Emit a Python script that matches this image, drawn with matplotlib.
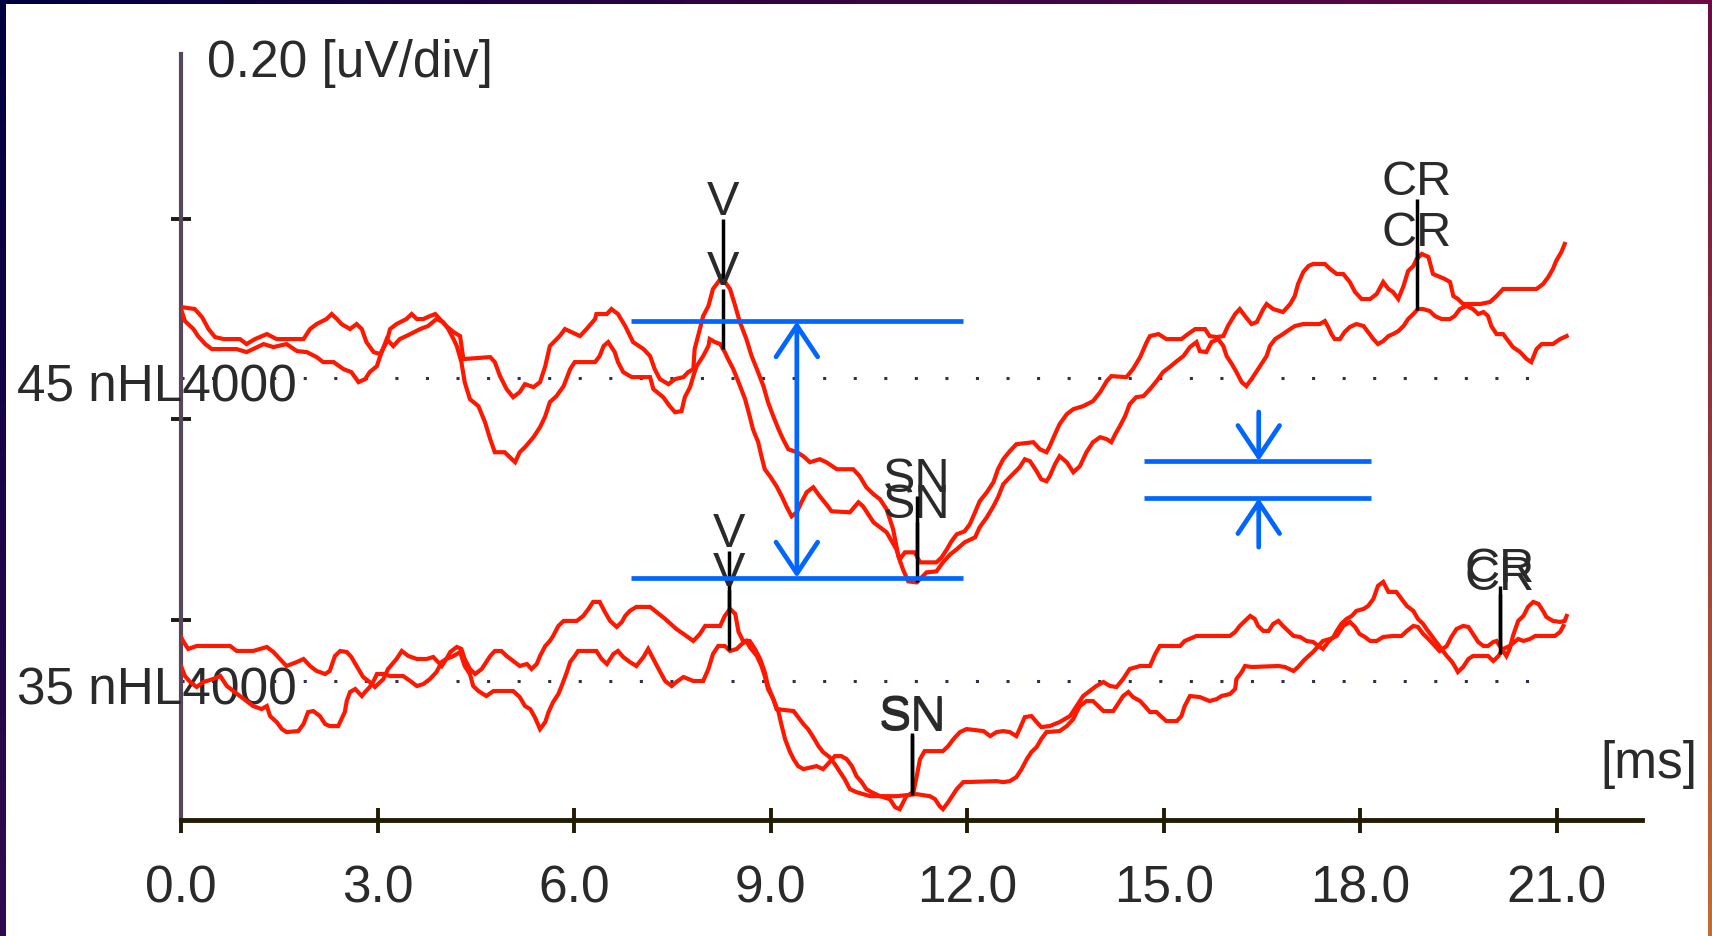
#ABR recording: two stimulus levels at 4000 Hz, two overlaid runs each, with wave markers.

import matplotlib
matplotlib.use('Agg')
import matplotlib.pyplot as plt
import matplotlib.font_manager as fm
from matplotlib.patches import Rectangle, FancyArrowPatch
import numpy as np

#Narrow font if it is there, otherwise plain Liberation Sans a bit smaller

names = set(f.name for f in fm.fontManager.ttflist)
if 'Liberation Sans Narrow' in names:
    font, fs, mfs = 'Liberation Sans Narrow', 44, 42
else:
    font, fs, mfs = 'Liberation Sans', 37, 35
plt.rcParams['font.family'] = [font, 'DejaVu Sans']

#Data. Time in ms, amplitude in uV relative to the trace baseline.

x_ticks = [0.0, 3.0, 6.0, 9.0, 12.0, 15.0, 18.0, 21.0]
x_labels = ['0.0', '3.0', '6.0', '9.0', '12.0', '15.0', '18.0', '21.0']
y_ticks = [0.2, 0.4, 0.6]
levels = ['45 nHL4000', '35 nHL4000']
baselines = [0.4413, 0.1388]

t_45a = [0.00, 0.21, 0.32, 0.42, 0.52, 0.65, 0.90, 1.00, 1.13, 1.31,
         1.46, 1.87, 1.97, 2.07, 2.22, 2.30, 2.38, 2.45, 2.58, 2.68,
         2.76, 2.83, 2.94, 3.04, 3.14, 3.19, 3.29, 3.44, 3.52, 3.60,
         3.70, 3.80, 3.88, 3.95, 4.05, 4.16, 4.26, 4.31, 4.72, 4.79,
         4.87, 4.97, 5.07, 5.17, 5.25, 5.38, 5.48, 5.56, 5.63, 5.78,
         5.86, 6.09, 6.19, 6.32, 6.34, 6.50, 6.57, 6.67, 6.78, 6.90,
         7.06, 7.16,
         7.23, 7.31, 7.44, 7.54, 7.67, 7.74, 7.82, 7.84, 7.92, 7.97,
         8.05, 8.12, 8.20, 8.25, 8.38, 8.46, 8.53, 8.63, 8.71, 8.79,
         8.89, 8.96, 9.04, 9.12, 9.19, 9.27, 9.40, 9.50, 9.60, 9.75,
         9.85, 10.01, 10.26, 10.36, 10.46, 10.57, 10.67, 10.77, 10.87, 10.95,
         11.02, 11.10, 11.23,
         11.38, 11.53, 11.63, 11.74, 11.84, 11.96, 12.12, 12.19, 12.30, 12.40,
         12.47, 12.55, 12.65, 12.80, 12.88, 12.96, 13.06, 13.13, 13.21, 13.26,
         13.34, 13.41, 13.52, 13.62, 13.72, 13.82, 13.92, 14.03, 14.13, 14.20,
         14.26, 14.33, 14.41, 14.48, 14.58, 14.69, 14.79,
         14.89, 14.99, 15.09, 15.20, 15.30, 15.40, 15.50, 15.55, 15.65, 15.73,
         15.83, 15.91, 15.96, 16.04, 16.11, 16.19, 16.26, 16.34, 16.42, 16.49,
         16.57, 16.62, 16.70, 16.82, 16.93, 17.00, 17.13, 17.38, 17.46, 17.51,
         17.56, 17.61, 17.69, 17.76, 17.84, 17.94, 18.05, 18.12, 18.20, 18.27,
         18.35, 18.43, 18.50, 18.58, 18.66, 18.73, 18.81, 18.88, 18.96, 19.06,
         19.14, 19.24, 19.37, 19.44, 19.52, 19.62, 19.72, 19.80, 19.88, 19.95,
         20.00, 20.08, 20.18, 20.26, 20.33, 20.44, 20.54, 20.61, 20.69, 20.77,
         20.94, 21.05, 21.15]
uv_45a = [0.071, 0.069, 0.061, 0.049, 0.041, 0.039, 0.039, 0.034, 0.039, 0.044,
          0.039, 0.039, 0.049, 0.054, 0.059, 0.064, 0.059, 0.054, 0.049, 0.054,
          0.049, 0.036, 0.026, 0.024, 0.036, 0.049, 0.054, 0.059, 0.064, 0.059,
          0.059, 0.062, 0.064, 0.059, 0.052, 0.046, 0.042, 0.019, 0.021, 0.016,
          0.002, -0.011, -0.019, -0.014, -0.006, -0.009, -0.004, 0.012, 0.032, 0.042,
          0.049, 0.042, 0.049, 0.059, 0.064, 0.064, 0.069, 0.064, 0.052, 0.036,
          0.029, 0.022,
          0.009, -0.001, -0.006, -0.001, 0.001, 0.006, 0.009, 0.029, 0.049, 0.062,
          0.072, 0.089, 0.096, 0.101, 0.089, 0.072, 0.056, 0.039, 0.022, 0.009,
          -0.008, -0.024, -0.038, -0.051, -0.061, -0.071, -0.074, -0.078, -0.084, -0.081,
          -0.084, -0.091, -0.091, -0.098, -0.109, -0.116, -0.121, -0.131, -0.151, -0.178,
          -0.191, -0.203, -0.204,
          -0.194, -0.193, -0.184, -0.176, -0.171, -0.164, -0.159, -0.149, -0.139, -0.128,
          -0.119, -0.106, -0.099, -0.089, -0.081, -0.083, -0.093, -0.101, -0.103, -0.098,
          -0.086, -0.078, -0.084, -0.094, -0.088, -0.074, -0.064, -0.059, -0.061, -0.064,
          -0.056, -0.048, -0.038, -0.026, -0.019, -0.018, -0.011,
          -0.003, 0.006, 0.011, 0.017, 0.022, 0.031, 0.036, 0.027, 0.026, 0.036,
          0.039, 0.032, 0.022, 0.014, 0.006, -0.004, -0.008, -0.001, 0.007, 0.014,
          0.022, 0.032, 0.039, 0.044, 0.049, 0.052, 0.054, 0.054, 0.057, 0.051,
          0.044, 0.039, 0.039, 0.046, 0.051, 0.054, 0.052, 0.046, 0.039, 0.034,
          0.037, 0.042, 0.044, 0.047, 0.052, 0.059, 0.064, 0.069, 0.069, 0.067,
          0.062, 0.059, 0.059, 0.062, 0.069, 0.072, 0.069, 0.064, 0.066, 0.062,
          0.052, 0.044, 0.044, 0.037, 0.031, 0.026, 0.019, 0.016, 0.029, 0.034,
          0.034, 0.039, 0.042]

t_45b = [0.00, 0.06, 0.19, 0.26, 0.37, 0.47, 0.85, 1.00, 1.10, 1.26,
         1.41, 1.61, 1.77, 1.92, 2.07, 2.17, 2.33, 2.48, 2.60, 2.71,
         2.81, 2.88, 2.99, 3.04, 3.14, 3.24, 3.34, 3.50, 3.65, 3.77,
         3.90, 4.00, 4.08, 4.16, 4.21, 4.28, 4.33, 4.41, 4.54, 4.64,
         4.72, 4.79, 4.94, 5.02, 5.10, 5.17, 5.25, 5.38, 5.48, 5.56,
         5.63, 5.73, 5.84, 5.94, 6.01, 6.32, 6.39, 6.45, 6.52, 6.62,
         6.67, 6.75, 6.88, 7.16,
         7.21, 7.36, 7.46, 7.54, 7.64, 7.69, 7.77, 7.82, 7.87, 7.97,
         8.05, 8.07, 8.15, 8.23, 8.30, 8.35, 8.43, 8.51, 8.61, 8.68,
         8.73, 8.81, 8.86, 8.91, 8.99, 9.09, 9.17, 9.24, 9.32, 9.40,
         9.47, 9.55, 9.65, 9.75, 9.85, 9.93, 10.21, 10.34, 10.41, 10.49,
         10.57, 10.67, 10.77, 10.85, 10.92, 10.97, 11.05, 11.20, 11.28,
         11.53, 11.61, 11.69, 11.76, 11.84, 11.96, 12.04, 12.12, 12.19, 12.30,
         12.40, 12.47, 12.55, 12.65, 12.75, 13.01, 13.11, 13.21, 13.26, 13.34,
         13.41, 13.52, 13.62, 13.77, 13.92, 14.03, 14.13, 14.20, 14.43, 14.53,
         14.64, 14.74, 14.79,
         14.92, 15.04, 15.27, 15.37, 15.48, 15.63, 15.70, 15.81, 15.91, 15.98,
         16.09, 16.16, 16.24, 16.34, 16.42, 16.52, 16.57, 16.67, 16.82, 16.93,
         17.00, 17.05, 17.13, 17.21, 17.28, 17.46, 17.54, 17.64, 17.74, 17.84,
         17.92, 18.02, 18.15, 18.25, 18.35, 18.43, 18.50, 18.58, 18.66, 18.73,
         18.81, 18.86, 18.94, 19.04, 19.11, 19.29, 19.37, 19.42, 19.49, 19.57,
         19.83, 19.98, 20.08, 20.18, 20.69, 20.79, 20.87, 20.94, 20.99, 21.07,
         21.12]
uv_45b = [0.069, 0.057, 0.049, 0.042, 0.034, 0.029, 0.029, 0.026, 0.029, 0.034,
          0.031, 0.034, 0.027, 0.026, 0.021, 0.016, 0.016, 0.009, 0.006, -0.004,
          -0.001, 0.006, 0.012, 0.022, 0.039, 0.032, 0.039, 0.044, 0.049, 0.052,
          0.059, 0.056, 0.049, 0.039, 0.032, 0.016, -0.004, -0.021, -0.028, -0.044,
          -0.061, -0.074, -0.074, -0.079, -0.084, -0.074, -0.069, -0.059, -0.049, -0.038,
          -0.024, -0.018, -0.008, 0.009, 0.016, 0.016, 0.022, 0.032, 0.036, 0.026,
          0.016, 0.006, 0.001, 0.001,
          -0.011, -0.019, -0.028, -0.034, -0.033, -0.019, -0.009, 0.002, 0.012, 0.022,
          0.032, 0.039, 0.036, 0.034, 0.026, 0.019, 0.009, -0.004, -0.021, -0.038,
          -0.051, -0.064, -0.078, -0.091, -0.098, -0.108, -0.118, -0.128, -0.138, -0.134,
          -0.124, -0.114, -0.109, -0.118, -0.126, -0.133, -0.134, -0.124, -0.128, -0.136,
          -0.144, -0.149, -0.154, -0.163, -0.171, -0.181, -0.174, -0.174, -0.184,
          -0.184, -0.179, -0.171, -0.163, -0.156, -0.153, -0.146, -0.134, -0.123, -0.114,
          -0.104, -0.091, -0.081, -0.073, -0.066, -0.064, -0.071, -0.074, -0.068, -0.056,
          -0.046, -0.036, -0.031, -0.028, -0.023, -0.014, -0.003, 0.002, 0.001, 0.009,
          0.021, 0.036, 0.042,
          0.044, 0.039, 0.039, 0.044, 0.049, 0.049, 0.042, 0.041, 0.042, 0.052,
          0.064, 0.069, 0.062, 0.054, 0.056, 0.069, 0.074, 0.069, 0.066, 0.074,
          0.082, 0.094, 0.106, 0.112, 0.114, 0.114, 0.109, 0.104, 0.104, 0.096,
          0.086, 0.079, 0.079, 0.084, 0.096, 0.089, 0.086, 0.079, 0.092, 0.107,
          0.112, 0.119, 0.124, 0.121, 0.104, 0.099, 0.096, 0.082, 0.079, 0.074,
          0.074, 0.076, 0.082, 0.089, 0.089, 0.094, 0.101, 0.109, 0.117, 0.126,
          0.134]

t_35a = [0.00, 0.04, 0.11, 0.24, 0.75, 0.85, 1.10, 1.31, 1.41, 1.51,
         1.61, 1.77, 1.87, 1.97, 2.07, 2.20, 2.27, 2.35, 2.43, 2.53,
         2.60, 2.68, 2.78, 2.88, 2.96, 3.09, 3.16, 3.29, 3.37, 3.47,
         3.60, 3.75, 3.85, 3.98, 4.05, 4.11, 4.21, 4.28, 4.33, 4.41,
         4.49, 4.59, 4.64, 4.72, 4.79, 4.89, 4.97, 5.07, 5.17, 5.28,
         5.35, 5.43, 5.48, 5.56, 5.63, 5.68, 5.76, 5.84, 6.04, 6.14,
         6.22, 6.29, 6.39, 6.47, 6.55, 6.65, 6.73, 6.78, 6.85, 6.95,
         7.16,
         7.39, 7.56, 7.67, 7.82, 7.92, 8.00, 8.23, 8.30, 8.38, 8.46,
         8.51, 8.58, 8.68, 8.76, 8.84, 8.91, 8.96, 9.04, 9.09, 9.35,
         9.42, 9.50, 9.57, 9.65, 9.73, 9.80, 9.90, 9.98, 10.06, 10.13,
         10.21, 10.31, 10.52, 10.92, 11.23, 11.43, 11.51, 11.58, 11.63, 11.71,
         11.76, 11.84, 11.94, 12.45, 12.55, 12.65, 12.75, 12.83, 12.91, 12.98,
         13.06, 13.13, 13.21, 13.41, 13.52, 13.62, 13.67, 13.72, 13.82, 13.92,
         14.00, 14.08, 14.23, 14.28, 14.38, 14.46, 14.53, 14.64, 14.71, 14.79,
         14.89, 14.97, 15.04, 15.20, 15.27, 15.32, 15.40, 15.55, 15.70, 15.81,
         15.88, 16.01, 16.09, 16.11, 16.19, 16.24, 16.34, 16.75, 16.85, 16.98,
         17.05, 17.13, 17.21, 17.28, 17.36, 17.43, 17.54, 17.64, 17.74, 17.84,
         17.92, 17.99, 18.07, 18.15, 18.25, 18.35, 18.50, 18.63, 18.71, 18.81,
         18.88, 18.96, 19.04, 19.14, 19.21, 19.32, 19.39, 19.47, 19.57, 19.65,
         19.72, 19.80, 19.88, 19.95, 20.03, 20.08, 20.16, 20.23, 20.28, 20.33,
         20.41, 20.49, 20.56, 20.64, 20.72, 20.79, 20.84, 20.94, 21.05, 21.12,
         21.15]
uv_35a = [0.044, 0.039, 0.032, 0.035, 0.035, 0.030, 0.030, 0.034, 0.029, 0.022,
          0.015, 0.019, 0.022, 0.015, 0.010, 0.007, 0.010, 0.025, 0.030, 0.029,
          0.024, 0.015, 0.004, -0.001, -0.006, 0.002, 0.012, 0.022, 0.030, 0.025,
          0.022, 0.022, 0.024, 0.015, 0.022, 0.029, 0.034, 0.032, 0.022, 0.012,
          0.007, 0.012, 0.017, 0.025, 0.030, 0.030, 0.025, 0.020, 0.015, 0.017,
          0.012, 0.017, 0.025, 0.035, 0.040, 0.045, 0.055, 0.060, 0.060, 0.065,
          0.072, 0.079, 0.079, 0.069, 0.060, 0.054, 0.059, 0.065, 0.070, 0.074,
          0.074,
          0.062, 0.052, 0.047, 0.040, 0.047, 0.055, 0.055, 0.065, 0.072, 0.067,
          0.049, 0.040, 0.040, 0.032, 0.022, 0.009, -0.005, -0.018, -0.028, -0.030,
          -0.036, -0.043, -0.048, -0.056, -0.065, -0.071, -0.076, -0.083, -0.091, -0.098,
          -0.108, -0.111, -0.115, -0.115, -0.113, -0.115, -0.118, -0.125, -0.128, -0.121,
          -0.116, -0.108, -0.101, -0.100, -0.101, -0.100, -0.096, -0.088, -0.078, -0.071,
          -0.066, -0.058, -0.051, -0.050, -0.045, -0.038, -0.031, -0.025, -0.020, -0.020,
          -0.025, -0.030, -0.030, -0.025, -0.015, -0.011, -0.016, -0.020, -0.025, -0.031,
          -0.031, -0.036, -0.040, -0.040, -0.035, -0.025, -0.015, -0.016, -0.020, -0.018,
          -0.015, -0.013, -0.008, 0.002, 0.009, 0.015, 0.014, 0.015, 0.014, 0.010,
          0.014, 0.020, 0.025, 0.029, 0.035, 0.040, 0.042, 0.045, 0.055, 0.059,
          0.054, 0.047, 0.044, 0.040, 0.040, 0.044, 0.045, 0.045, 0.050, 0.055,
          0.054, 0.047, 0.042, 0.035, 0.030, 0.035, 0.044, 0.052, 0.055, 0.054,
          0.047, 0.039, 0.035, 0.035, 0.039, 0.040, 0.032, 0.025, 0.032, 0.045,
          0.060, 0.065, 0.074, 0.079, 0.077, 0.070, 0.064, 0.060, 0.059, 0.060,
          0.065]

t_35b = [0.00, 0.06, 0.14, 0.24, 0.34, 0.49, 0.60, 0.70, 0.80, 0.90,
         1.00, 1.10, 1.23, 1.31, 1.36, 1.46, 1.54, 1.61, 1.79, 1.87,
         1.94, 2.02, 2.12, 2.20, 2.27, 2.40, 2.45, 2.50, 2.53, 2.58,
         2.66, 2.76, 2.81, 2.88, 2.94, 2.99, 3.09, 3.19, 3.39, 3.50,
         3.60, 3.70, 3.80, 3.90, 3.98, 4.05, 4.16, 4.26, 4.33, 4.41,
         4.46, 4.54, 4.66, 4.77, 5.07, 5.17, 5.25, 5.33, 5.40, 5.48,
         5.56, 5.61, 5.68, 5.76, 5.81, 5.89, 5.94, 6.01, 6.06, 6.34,
         6.42, 6.50, 6.60, 6.67, 6.75, 6.85, 6.95, 7.06, 7.13,
         7.21, 7.29, 7.39, 7.49, 7.56, 7.67, 7.82, 7.97, 8.05, 8.12,
         8.20, 8.30, 8.38, 8.48, 8.56, 8.63, 8.68, 8.79, 8.86, 8.91,
         8.96, 9.04, 9.12, 9.17, 9.22, 9.29, 9.35, 9.42, 9.50, 9.70,
         9.80, 9.90, 9.98, 10.08, 10.16, 10.24, 10.31, 10.39, 10.46, 10.54,
         10.67, 10.82, 10.90, 10.97, 11.07, 11.18, 11.23, 11.28, 11.35, 11.63,
         11.71, 11.79, 11.89, 11.99, 12.25, 12.35, 12.45, 12.55, 12.65, 12.75,
         12.80, 12.88, 12.98, 13.06, 13.13, 13.26, 13.41, 13.57, 13.67, 13.77,
         13.87, 13.97, 14.08, 14.18, 14.28, 14.38, 14.48, 14.64, 14.79,
         14.87, 14.94, 15.25, 15.32, 15.50, 16.01, 16.09, 16.16, 16.24, 16.32,
         16.39, 16.44, 16.52, 16.60, 16.67, 16.75, 16.82, 16.90, 16.98, 17.08,
         17.18, 17.28, 17.36, 17.43, 17.51, 17.59, 17.64, 17.71, 17.79, 17.87,
         17.94, 18.05, 18.12, 18.20, 18.27, 18.35, 18.43, 18.55, 18.63, 18.71,
         18.81, 18.88, 18.96, 19.01, 19.09, 19.16, 19.24, 19.32, 19.39, 19.44,
         19.49, 19.57, 19.65, 19.72, 19.95, 20.03, 20.11, 20.18, 20.28, 20.41,
         20.49, 20.59, 20.67, 20.97, 21.05, 21.10]
uv_35b = [0.015, 0.005, -0.001, -0.006, -0.001, 0.002, 0.005, -0.005, -0.010, -0.015,
          -0.020, -0.025, -0.028, -0.025, -0.035, -0.041, -0.048, -0.051, -0.050, -0.043,
          -0.031, -0.030, -0.035, -0.043, -0.045, -0.045, -0.038, -0.031, -0.020, -0.011,
          -0.008, -0.015, -0.011, -0.006, 0.000, 0.007, 0.007, 0.005, 0.005, 0.000,
          -0.005, -0.003, 0.002, 0.009, 0.019, 0.022, 0.025, 0.029, 0.015, 0.007,
          -0.005, -0.010, -0.015, -0.010, -0.010, -0.016, -0.025, -0.028, -0.036, -0.048,
          -0.041, -0.031, -0.021, -0.013, -0.005, 0.009, 0.019, 0.025, 0.030, 0.030,
          0.022, 0.017, 0.027, 0.030, 0.024, 0.019, 0.015, 0.024, 0.032,
          0.022, 0.012, 0.000, -0.005, -0.001, 0.004, 0.000, 0.000, 0.012, 0.027,
          0.035, 0.035, 0.030, 0.032, 0.037, 0.040, 0.034, 0.025, 0.015, 0.005,
          -0.008, -0.018, -0.031, -0.045, -0.058, -0.070, -0.078, -0.085, -0.088, -0.085,
          -0.088, -0.081, -0.075, -0.075, -0.078, -0.085, -0.095, -0.101, -0.108, -0.111,
          -0.115, -0.118, -0.126, -0.128, -0.115, -0.111, -0.095, -0.078, -0.070, -0.070,
          -0.065, -0.058, -0.051, -0.048, -0.050, -0.055, -0.051, -0.050, -0.051, -0.055,
          -0.048, -0.036, -0.035, -0.041, -0.046, -0.045, -0.041, -0.035, -0.025, -0.015,
          -0.010, -0.005, -0.001, -0.005, -0.006, 0.002, 0.012, 0.015, 0.015,
          0.027, 0.035, 0.035, 0.040, 0.045, 0.045, 0.049, 0.055, 0.060, 0.065,
          0.062, 0.055, 0.050, 0.050, 0.057, 0.060, 0.055, 0.050, 0.045, 0.044,
          0.040, 0.039, 0.035, 0.032, 0.039, 0.044, 0.050, 0.057, 0.062, 0.065,
          0.070, 0.072, 0.075, 0.082, 0.095, 0.099, 0.089, 0.089, 0.082, 0.075,
          0.070, 0.062, 0.057, 0.052, 0.045, 0.039, 0.032, 0.025, 0.020, 0.015,
          0.009, 0.014, 0.022, 0.025, 0.025, 0.020, 0.025, 0.032, 0.035, 0.042,
          0.040, 0.042, 0.045, 0.045, 0.049, 0.055]

#Wave markers (label and latency in ms) for each level
peak_labels = ['V', 'SN', 'CR']
peaks_45 = [8.27, 11.23, 18.86]
peaks_35 = [8.36, 11.16, 20.13]

#Blue measuring lines, in plot uV and ms
amp_lines = [0.498, 0.242]
amp_span = [6.87, 11.94]
amp_arrow_t = 9.40
gap_lines = [0.3585, 0.3215]
gap_span = [14.70, 18.16]
gap_arrow_t = 16.45
gap_arrow_len = 0.049

red = '#ff1800'
blue = '#0066ff'
ink = '#2a2a2a'
head = '->,head_length=0.45,head_width=0.3'

fig = plt.figure(figsize=(17.12, 9.37), dpi=100)

#dark gradient frame round the picture (open at the bottom)
bg = fig.add_axes([0, 0, 1, 1], zorder=-10)
bg.axis('off')
gy, gx = np.mgrid[0:1:60j, 0:1:60j]
tl, tr = np.array([0.0, 0.0, 0.25]), np.array([0.42, 0.04, 0.27])
bl, br = np.array([0.19, 0.04, 0.31]), np.array([0.78, 0.42, 0.19])
grad = ((1 - gy)[..., None] * ((1 - gx)[..., None] * tl + gx[..., None] * tr)
        + gy[..., None] * ((1 - gx)[..., None] * bl + gx[..., None] * br))
bg.imshow(grad, extent=[0, 1, 0, 1], aspect='auto', origin='upper')
bg.add_patch(Rectangle((6 / 1712, 0), (1712 - 10) / 1712, (937 - 5) / 937,
                       transform=bg.transAxes, facecolor='white', edgecolor='none'))
bg.set_xlim(0, 1)
bg.set_ylim(0, 1)

ax = fig.add_axes([181 / 1712, 116 / 937, 1461 / 1712, 766 / 937])
ax.set_facecolor('none')
ax.set_xlim(0, 22.30)
ax.set_ylim(0, 0.765)

for s in ['top', 'right']:
    ax.spines[s].set_visible(False)
ax.spines['left'].set_color('#56485c')
ax.spines['left'].set_linewidth(3.0)
ax.spines['bottom'].set_color('#231c05')
ax.spines['bottom'].set_linewidth(3.5)

ax.set_xticks(x_ticks)
ax.set_xticklabels(x_labels)
ax.tick_params(axis='x', direction='inout', length=18, width=2.8, color='#231c05',
               pad=22, labelsize=fs, labelcolor=ink)
ax.set_yticks(y_ticks)
ax.set_yticklabels([])
ax.tick_params(axis='y', direction='inout', length=14, width=2.8, color='#1e1a10')

#baselines and traces
traces = [(t_45a, uv_45a), (t_45b, uv_45b), (t_35a, uv_35a), (t_35b, uv_35b)]
groups = [0, 0, 1, 1]
for k in range(2):
    ax.plot([0, 20.9], [baselines[k], baselines[k]], color='#303048', lw=2.2,
            linestyle=(0, (1, 9)), zorder=2)
    ax.text(-2.50, baselines[k] - 0.022, levels[k], fontsize=fs, color=ink,
            ha='left', va='baseline', clip_on=False, zorder=3)

for (t, uv), g in zip(traces, groups):
    ax.plot(t, np.array(uv) + baselines[g], color=red, lw=3.0, zorder=4,
            solid_joinstyle='miter')

#markers: tick line up from the trace, label above it
for (t, uv), g in zip(traces, groups):
    times = peaks_45 if g == 0 else peaks_35
    for lab, tm in zip(peak_labels, times):
        y = np.interp(tm, t, uv) + baselines[g]
        ax.plot([tm, tm], [y, y + 0.06], color='black', lw=2.5, zorder=6,
                solid_capstyle='butt')
        ax.text(tm, y + 0.065, lab, fontsize=mfs, color=ink, ha='center',
                va='baseline', zorder=6)

#blue measuring annotations
for yv in amp_lines:
    ax.plot(amp_span, [yv, yv], color=blue, lw=3.4, zorder=7, solid_capstyle='butt')
ax.add_patch(FancyArrowPatch((amp_arrow_t, amp_lines[1]), (amp_arrow_t, amp_lines[0]),
                             arrowstyle='<' + head, mutation_scale=50, color=blue,
                             lw=3.4, shrinkA=0, shrinkB=0, zorder=7))
for yv in gap_lines:
    ax.plot(gap_span, [yv, yv], color=blue, lw=3.4, zorder=7, solid_capstyle='butt')
ax.add_patch(FancyArrowPatch((gap_arrow_t, gap_lines[0] + gap_arrow_len),
                             (gap_arrow_t, gap_lines[0]),
                             arrowstyle=head, mutation_scale=50, color=blue, lw=3.4,
                             shrinkA=0, shrinkB=0, zorder=7))
ax.add_patch(FancyArrowPatch((gap_arrow_t, gap_lines[1] - gap_arrow_len),
                             (gap_arrow_t, gap_lines[1]),
                             arrowstyle=head, mutation_scale=50, color=blue, lw=3.4,
                             shrinkA=0, shrinkB=0, zorder=7))

#scale and unit labels
ax.text(0.40, 0.743, '0.20 [uV/div]', fontsize=fs, color=ink, ha='left',
        va='baseline', clip_on=False)
ax.text(21.66, 0.056, '[ms]', fontsize=fs, color=ink, ha='left', va='center',
        clip_on=False)

fig.savefig('out.png', dpi=100)
